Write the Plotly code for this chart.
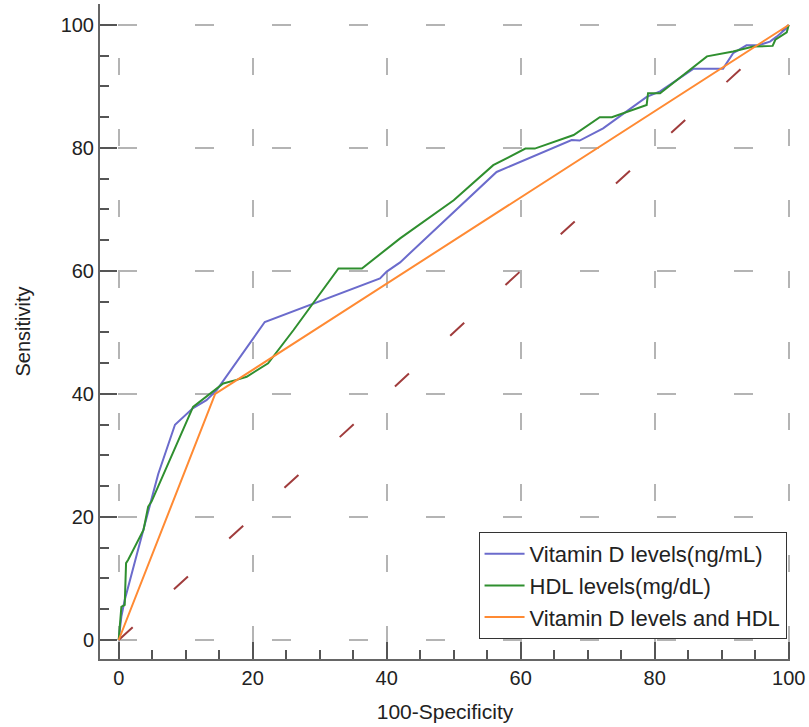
import plotly.graph_objects as go

# ROC curve data (100-Specificity, Sensitivity)
vitd_x = [0, 0.4, 0.9, 3.9, 4.8, 5.9, 8.4, 11.1, 13.1, 14.6, 21.8, 39.0, 40.0, 42.0, 56.4, 67.6, 68.8, 72.3, 78.8, 80.8, 83.3, 85.8, 90.2, 91.7, 93.7, 95.5, 97.2, 98.2, 99.7, 100]
vitd_y = [0, 3.8, 6.5, 18.5, 22.5, 27.0, 35.0, 37.7, 39.0, 40.6, 51.7, 58.8, 59.9, 61.4, 76.1, 81.3, 81.2, 83.2, 88.3, 89.2, 91.0, 92.9, 92.9, 95.4, 96.7, 96.7, 97.3, 98.1, 99.5, 100]

hdl_x = [0, 0.4, 0.9, 1.1, 1.4, 3.7, 4.4, 4.9, 11.1, 15.6, 17.6, 19.1, 22.3, 26.1, 32.8, 36.3, 42.0, 50.0, 55.9, 60.7, 62.1, 67.9, 71.8, 73.6, 78.8, 79.0, 80.8, 87.8, 91.7, 94.7, 97.6, 98.0, 99.7, 100]
hdl_y = [0, 5.4, 5.7, 12.5, 13.0, 17.9, 21.7, 22.5, 37.9, 41.7, 42.3, 42.8, 45.0, 50.4, 60.4, 60.4, 65.3, 71.5, 77.2, 79.9, 79.9, 82.1, 85.0, 85.0, 87.0, 88.9, 88.9, 94.9, 95.7, 96.5, 96.6, 97.6, 98.8, 100]

comb_x = [0, 14.4, 100]
comb_y = [0, 40.0, 100]

ref_x = [0, 100]
ref_y = [0, 100]

names = ["Vitamin D levels(ng/mL)", "HDL levels(mg/dL)", "Vitamin D levels and HDL"]
colors = ["#6b6bcc", "#2f8f2f", "#ff8a33"]

FONT = "Liberation Sans, Arial, sans-serif"

fig = go.Figure()
fig.add_trace(go.Scatter(x=ref_x, y=ref_y, mode="lines", showlegend=False,
                         line=dict(color="#a03c3c", width=2, dash="19px,56px"),
                         hoverinfo="skip"))
for xs, ys, nm, c in [(vitd_x, vitd_y, names[0], colors[0]),
                      (hdl_x, hdl_y, names[1], colors[1]),
                      (comb_x, comb_y, names[2], colors[2])]:
    fig.add_trace(go.Scatter(x=xs, y=ys, mode="lines", name=nm,
                             line=dict(color=c, width=2)))

axis_common = dict(
    showline=True, linecolor="#666", linewidth=2,
    ticks="inside", ticklen=17, tickwidth=2, tickcolor="#555",
    dtick=20, tick0=0,
    zeroline=False,
    showgrid=True, gridcolor="#b4b4b4", gridwidth=2,
    tickfont=dict(family=FONT, size=20, color="#222"),
    minor=dict(dtick=5, tick0=0, ticks="inside", ticklen=9, tickwidth=2,
               tickcolor="#555", showgrid=False),
)

fig.update_layout(
    width=809, height=727,
    margin=dict(l=100, r=19, t=4, b=68, autoexpand=False),
    paper_bgcolor="white", plot_bgcolor="white",
    font=dict(family=FONT, size=20, color="#222"),
    xaxis=dict(range=[-2.79, 100.19],
               title=dict(text="100-Specificity", font=dict(family=FONT, size=21, color="#222"), standoff=16),
               griddash="0px,54px,17px,0px", **axis_common),
    yaxis=dict(range=[-3.09, 103.41],
               title=dict(text="Sensitivity", font=dict(family=FONT, size=20, color="#222"), standoff=25),
               griddash="0px,18px,19px,40px", **axis_common),
    legend=dict(x=0.995, y=0.0305, xanchor="right", yanchor="bottom",
                bgcolor="white", bordercolor="#333", borderwidth=1,
                font=dict(family=FONT, size=22, color="#222"),
                tracegroupgap=0, itemwidth=40),
    showlegend=True,
)

fig.write_html("out.html",
               config={"displayModeBar": False},
               post_script="document.body.style.margin='0';document.body.style.overflow='hidden';")
